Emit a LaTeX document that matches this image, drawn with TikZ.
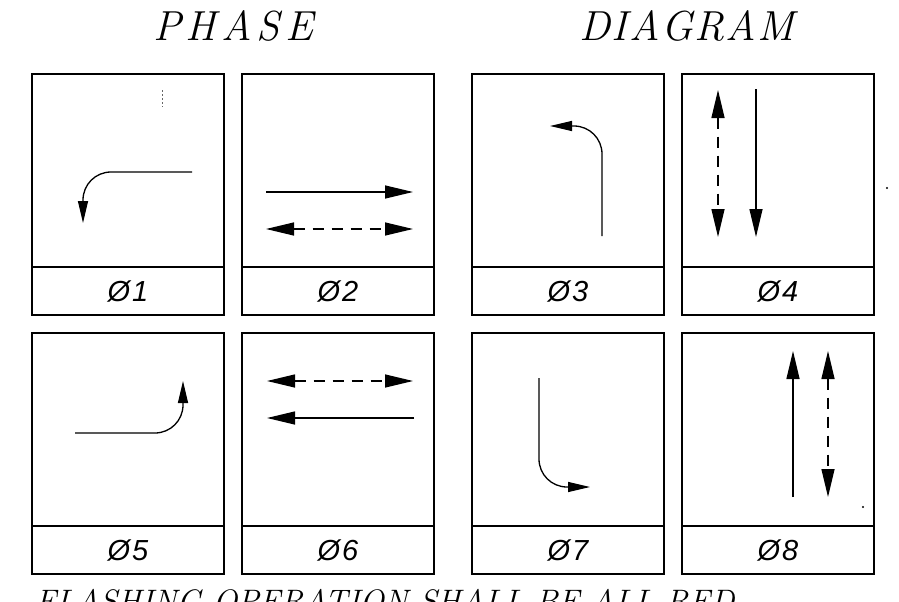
\documentclass[tikz,border=0pt]{standalone}
\usepackage{fontspec}
\newfontfamily\tagfont{Liberation Sans}
\usetikzlibrary{arrows.meta,positioning}

\begin{document}
\begin{tikzpicture}[x=1pt, y=-1pt,
  pbox/.style={draw, line width=2pt, outer sep=0pt, minimum width=192pt, minimum height=193pt, inner sep=0pt},
  tagbox/.style={draw, line width=2pt, outer sep=0pt, minimum width=192pt, minimum height=48pt, inner sep=0pt,
    font=\tagfont\itshape\fontsize{29}{32}\selectfont},
  title/.style={anchor=base, font=\itshape\fontsize{42}{46}\selectfont},
  go/.style={line width=1.3pt, -{Triangle[length=28pt,width=13pt]}},
  turn/.style={line width=1.3pt, rounded corners=28pt, -{Triangle[length=22pt,width=10pt]}},
  flash/.style={line width=1.3pt, dash pattern=on 11pt off 8pt,
    {Triangle[length=28pt,width=13pt]}-{Triangle[length=28pt,width=13pt]}}]
\useasboundingbox (0,0) rectangle (899,602) ;
\clip (0,0) rectangle (899,602) ;
% titles
\node[title] (phase) at (233,41) {P\kern5pt H\kern5pt A\kern5pt S\kern5pt E} ;
\node[title] (diagram) at (687,41) {D\kern1.5pt I\kern1.5pt A\kern1.5pt G\kern1.5pt R\kern1.5pt A\kern1.5pt M} ;
%% phase 1
\begin{scope}
\node[pbox] (p1) at (128,170.5) {} ;
\node[tagbox, below=0pt of p1] (t1) {Ø\kern2pt 1} ;
\coordinate (A1) at (192,172) ;
\coordinate (B1) at (83,172) ;
\coordinate (C1) at (83,223) ;
\draw[turn] (A1) -- (B1) -- (C1) ;
\draw[line width=0.6pt, dash pattern=on 2pt off 2pt, black!60] (162,90) -- (162,107) ;
\end{scope}
%% phase 2
\begin{scope}
\node[pbox] (p2) at (338,170.5) {} ;
\node[tagbox, below=0pt of p2] (t2) {Ø\kern2pt 2} ;
\coordinate (A2) at (266,192) ;
\coordinate (B2) at (413,192) ;
\coordinate (C2) at (266,229) ;
\coordinate (D2) at (413,229) ;
\draw[go] (A2) -- (B2) ;
\draw[flash] (C2) -- (D2) ;
\end{scope}
%% phase 3
\begin{scope}
\node[pbox] (p3) at (568,170.5) {} ;
\node[tagbox, below=0pt of p3] (t3) {Ø\kern2pt 3} ;
\coordinate (A3) at (602,236) ;
\coordinate (B3) at (602,126) ;
\coordinate (C3) at (550,126) ;
\draw[turn] (A3) -- (B3) -- (C3) ;
\end{scope}
%% phase 4
\begin{scope}
\node[pbox] (p4) at (778,170.5) {} ;
\node[tagbox, below=0pt of p4] (t4) {Ø\kern2pt 4} ;
\coordinate (A4) at (718,90) ;
\coordinate (B4) at (718,237) ;
\coordinate (C4) at (756,89) ;
\coordinate (D4) at (756,237) ;
\draw[flash] (A4) -- (B4) ;
\draw[go] (C4) -- (D4) ;
\end{scope}
%% phase 5
\begin{scope}
\node[pbox] (p5) at (128,429.5) {} ;
\node[tagbox, below=0pt of p5] (t5) {Ø\kern2pt 5} ;
\coordinate (A5) at (75,433) ;
\coordinate (B5) at (183,433) ;
\coordinate (C5) at (183,381) ;
\draw[turn] (A5) -- (B5) -- (C5) ;
\end{scope}
%% phase 6
\begin{scope}
\node[pbox] (p6) at (338,429.5) {} ;
\node[tagbox, below=0pt of p6] (t6) {Ø\kern2pt 6} ;
\coordinate (A6) at (267,381) ;
\coordinate (B6) at (413,381) ;
\coordinate (C6) at (414,418) ;
\coordinate (D6) at (267,418) ;
\draw[flash] (A6) -- (B6) ;
\draw[go] (C6) -- (D6) ;
\end{scope}
%% phase 7
\begin{scope}
\node[pbox] (p7) at (568,429.5) {} ;
\node[tagbox, below=0pt of p7] (t7) {Ø\kern2pt 7} ;
\coordinate (A7) at (539,378) ;
\coordinate (B7) at (539,487) ;
\coordinate (C7) at (590,487) ;
\draw[turn] (A7) -- (B7) -- (C7) ;
\end{scope}
%% phase 8
\begin{scope}
\node[pbox] (p8) at (778,429.5) {} ;
\node[tagbox, below=0pt of p8] (t8) {Ø\kern2pt 8} ;
\coordinate (A8) at (793,497) ;
\coordinate (B8) at (793,351) ;
\coordinate (C8) at (828,351) ;
\coordinate (D8) at (828,497) ;
\draw[go] (A8) -- (B8) ;
\draw[flash] (C8) -- (D8) ;
\end{scope}
% specks
\fill (887,188) circle (1.2) ;
\fill (863,507) circle (1.2) ;
% note, cut by the page edge
\node[anchor=base west, font=\itshape\fontsize{32.5}{35}\selectfont, inner sep=0pt] (note) at (35,612)
  {FLASHING OPERATION SHALL BE ALL RED} ;
\end{tikzpicture}
\end{document}
